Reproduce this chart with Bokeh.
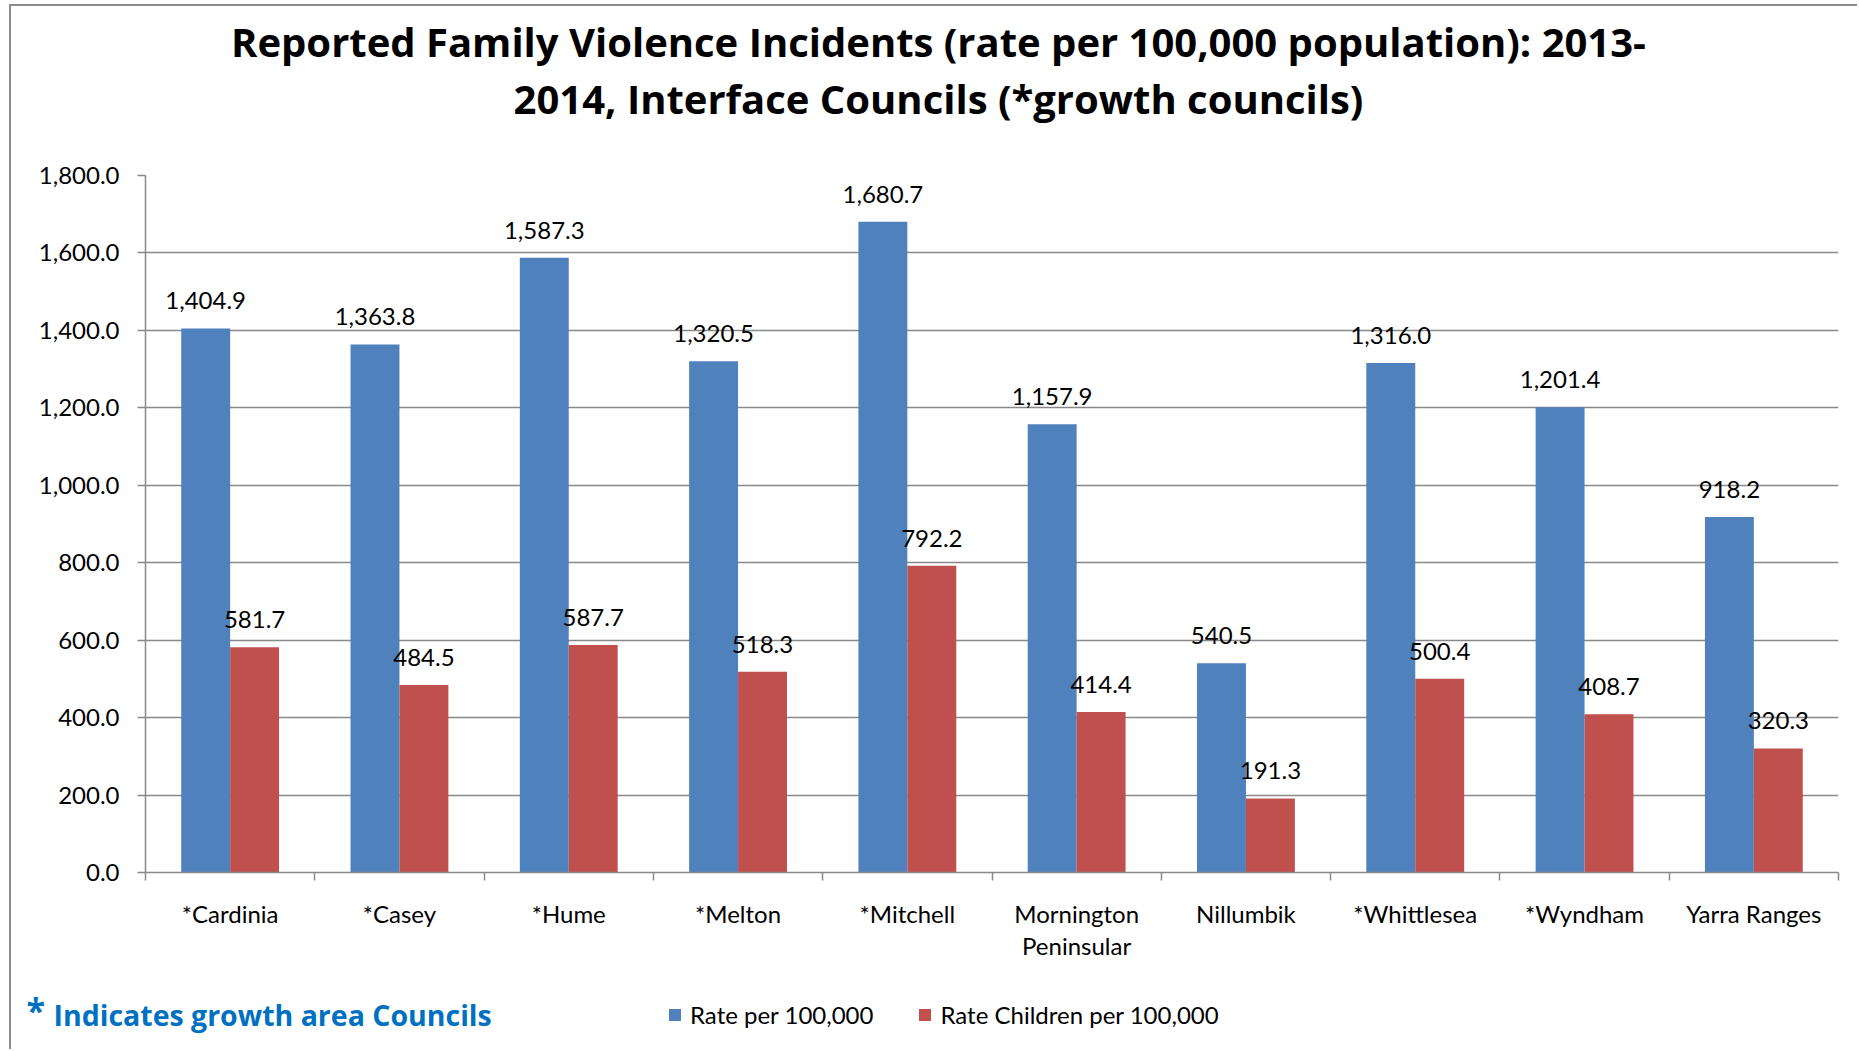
from bokeh.plotting import figure
from bokeh.models import (ColumnDataSource, Range1d, FixedTicker, NumeralTickFormatter,
                          LabelSet, Label, Legend, LegendItem)
from bokeh.transform import dodge
from bokeh.core.properties import value
from bokeh.embed import file_html
from bokeh.resources import INLINE

# ---------------- data ----------------
councils = ["*Cardinia", "*Casey", "*Hume", "*Melton", "*Mitchell",
            "Mornington\nPeninsular", "Nillumbik", "*Whittlesea", "*Wyndham", "Yarra Ranges"]
rate = [1404.9, 1363.8, 1587.3, 1320.5, 1680.7, 1157.9, 540.5, 1316.0, 1201.4, 918.2]
rate_children = [581.7, 484.5, 587.7, 518.3, 792.2, 414.4, 191.3, 500.4, 408.7, 320.3]
y_ticks = [0, 200, 400, 600, 800, 1000, 1200, 1400, 1600, 1800]
series_names = ["Rate per 100,000", "Rate Children per 100,000"]
title_lines = ["Reported Family Violence Incidents (rate per 100,000 population): 2013-",
               "2014, Interface Councils (*growth councils)"]
footnote = "Indicates growth area Councils"

# ---------------- style ----------------
BLUE = "#4F81BD"
RED = "#C0504D"
GRID = "#898989"
NOTE = "#0070C0"
EDGE = "2px solid #8c8c8c"
FONT = "Lato"
TFONT = "Open Sans"
FS = "24px"
BAR_W = 0.289
W = 1848

n = len(councils)
centers = [i + 0.5 for i in range(n)]
boundaries = list(range(n + 1))

src = ColumnDataSource(dict(
    center=centers,
    rate=rate,
    child=rate_children,
    rate_lbl=[f"{v:,.1f}" for v in rate],
    child_lbl=[f"{v:,.1f}" for v in rate_children],
))


def blank_fig(height):
    fig = figure(width=W, height=height, x_range=Range1d(0, 1), y_range=Range1d(0, 1),
                 output_backend="svg", toolbar_location=None,
                 x_axis_location=None, y_axis_location=None,
                 min_border=0, min_border_left=0, min_border_right=0,
                 min_border_top=0, min_border_bottom=0)
    fig.outline_line_color = None
    fig.grid.visible = False
    fig.background_fill_color = "white"
    fig.border_fill_color = "white"
    return fig


# ---------------- header: two-line title ----------------
h = blank_fig(124)
h.margin = (4, 0, 0, 9)
h.styles = {"border-top": EDGE, "border-left": EDGE}
for txt, yy in zip(title_lines, (89, 32)):
    h.add_layout(Label(x=927, y=yy, x_units="screen", y_units="screen", text=txt,
                       text_align="center", text_baseline="alphabetic",
                       text_font=TFONT, text_font_style="bold", text_font_size="40px",
                       text_color="black"))

# ---------------- main chart ----------------
p = figure(width=W, height=845,
           x_range=Range1d(0, n), y_range=Range1d(y_ticks[0], y_ticks[-1]),
           output_backend="svg", toolbar_location=None,
           min_border_left=134, min_border_right=21,
           min_border_top=47, min_border_bottom=101)
p.margin = (0, 0, 0, 9)
p.styles = {"border-left": EDGE}
p.outline_line_color = None
p.background_fill_color = "white"
p.border_fill_color = "white"

p.vbar(x=dodge("center", -BAR_W / 2), top="rate", width=BAR_W, source=src,
       fill_color=BLUE, line_color=None)
p.vbar(x=dodge("center", BAR_W / 2), top="child", width=BAR_W, source=src,
       fill_color=RED, line_color=None)

# y axis
ya = p.yaxis[0]
ya.ticker = FixedTicker(ticks=y_ticks)
ya.formatter = NumeralTickFormatter(format="0,0.0")
ya.major_tick_out = 8
ya.major_tick_in = 0
ya.minor_tick_out = 0
ya.minor_tick_in = 0
ya.axis_line_color = GRID
ya.axis_line_width = 1.5
ya.major_tick_line_color = GRID
ya.major_tick_line_width = 1.5
ya.major_label_standoff = 18
ya.major_label_text_font = FONT
ya.major_label_text_font_size = FS
ya.major_label_text_color = "black"

# x axis: labels at category centres, ticks at category boundaries
xa = p.xaxis[0]
xa.ticker = FixedTicker(ticks=centers, minor_ticks=boundaries)
xa.major_label_overrides = {c: name for c, name in zip(centers, councils)}
xa.major_tick_out = 0
xa.major_tick_in = 0
xa.minor_tick_out = 8
xa.minor_tick_in = 0
xa.minor_tick_line_color = GRID
xa.minor_tick_line_width = 1.5
xa.axis_line_color = GRID
xa.axis_line_width = 1.5
xa.major_label_standoff = 18
xa.major_label_text_font = FONT
xa.major_label_text_font_size = FS
xa.major_label_text_color = "black"
xa.major_label_text_line_height = 1.11

p.xgrid.visible = False
p.ygrid.ticker = FixedTicker(ticks=y_ticks)
p.ygrid.grid_line_color = GRID
p.ygrid.grid_line_width = 1.5

# data labels
for xoff, col in ((-BAR_W / 2, "rate"), (BAR_W / 2, "child")):
    p.add_layout(LabelSet(x=dodge("center", xoff), y=col, text=col + "_lbl", source=src,
                          text_align="center", text_baseline="alphabetic", y_offset=19,
                          text_font=value(FONT), text_font_size=FS, text_color="black"))

# ---------------- footer: note + legend ----------------
f = blank_fig(76)
f.margin = (0, 0, 0, 9)
f.styles = {"border-left": EDGE}

f.add_layout(Label(x=15, y=40, x_units="screen", y_units="screen", text="*",
                   text_align="left", text_baseline="alphabetic",
                   text_font=TFONT, text_font_style="bold", text_font_size="34px",
                   text_color=NOTE))
f.add_layout(Label(x=42, y=35, x_units="screen", y_units="screen", text=footnote,
                   text_align="left", text_baseline="alphabetic",
                   text_font=TFONT, text_font_style="bold", text_font_size="28.5px",
                   text_color=NOTE))

# legend keys: the two series, hidden in this strip, shown only through the legend
k1 = f.vbar(x="center", top="rate", width=BAR_W, source=src,
            fill_color=BLUE, line_color=None, visible=False)
k2 = f.vbar(x="center", top="child", width=BAR_W, source=src,
            fill_color=RED, line_color=None, visible=False)
legend = Legend(items=[LegendItem(label=series_names[0], renderers=[k1]),
                       LegendItem(label=series_names[1], renderers=[k2])],
                location=(656, 20), orientation="horizontal",
                glyph_width=15, glyph_height=15, label_standoff=8, spacing=44,
                padding=0, margin=0, border_line_color=None, background_fill_alpha=0,
                inactive_fill_alpha=0,
                label_text_font=FONT, label_text_font_size=FS, label_text_color="black")
f.add_layout(legend, "center")

open("out.html", "w").write(file_html([h, p, f], INLINE, title="Reported Family Violence Incidents"))
